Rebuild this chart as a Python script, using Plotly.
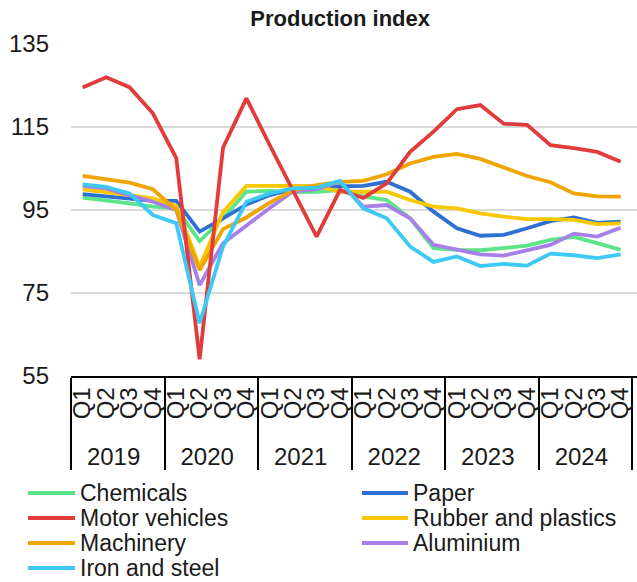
import plotly.graph_objects as go

years = ["2019", "2020", "2021", "2022", "2023", "2024"]
quarters = ["Q1", "Q2", "Q3", "Q4"]

chemicals = [98.0, 97.4, 96.6, 95.8, 95.4, 87.5, 93.0, 99.4, 99.6, 99.3, 99.4, 99.8,
             98.3, 97.4, 93.0, 85.8, 85.4, 85.3, 85.9, 86.4, 87.8, 88.5, 87.0, 85.4]
motor_vehicles = [124.5, 127.0, 124.6, 118.3, 107.5, 59.0, 110.0, 121.9, 110.6, 99.6, 88.6, 99.8,
                  97.9, 101.4, 109.0, 113.9, 119.3, 120.3, 115.8, 115.5, 110.6, 109.9, 109.0, 106.6]
machinery = [103.2, 102.5, 101.6, 100.0, 95.0, 80.5, 90.4, 93.2, 96.8, 99.8, 101.0, 101.8,
             102.0, 103.6, 106.2, 107.8, 108.5, 107.3, 105.3, 103.2, 101.7, 99.0, 98.3, 98.2]
iron_steel = [101.2, 100.6, 99.0, 93.8, 91.8, 67.7, 86.2, 97.0, 99.0, 100.2, 100.4, 102.0,
              95.4, 93.0, 86.2, 82.5, 83.8, 81.5, 82.0, 81.6, 84.5, 84.1, 83.4, 84.3]
paper = [98.8, 98.2, 97.6, 97.2, 97.2, 89.8, 93.0, 96.3, 98.6, 100.0, 100.6, 100.8,
         100.8, 101.8, 99.4, 94.6, 90.6, 88.8, 89.0, 90.6, 92.3, 93.2, 91.9, 92.2]
rubber_plastics = [100.0, 99.4, 98.6, 97.8, 96.0, 81.3, 94.5, 100.8, 100.8, 101.0, 100.8, 99.4,
                   99.4, 99.4, 97.4, 95.8, 95.4, 94.2, 93.4, 92.8, 92.8, 92.6, 91.6, 91.8]
aluminium = [100.8, 100.2, 98.6, 97.0, 95.0, 76.9, 87.0, 91.3, 95.5, 99.5, 100.0, 101.8,
             95.8, 96.2, 93.0, 86.6, 85.4, 84.3, 84.0, 85.2, 86.6, 89.3, 88.6, 90.7]

# (name, values, colour, legend column, legend row)
series = [
    ("Chemicals", chemicals, "#5ce488", 0, 0),
    ("Paper", paper, "#2d6fd2", 1, 0),
    ("Rubber and plastics", rubber_plastics, "#f7c800", 1, 1),
    ("Aluminium", aluminium, "#a680e8", 1, 2),
    ("Machinery", machinery, "#f0a400", 0, 2),
    ("Motor vehicles", motor_vehicles, "#e23b3b", 0, 1),
    ("Iron and steel", iron_steel, "#3dc9f5", 0, 3),
]

x_years = [y for y in years for _ in quarters]
x_quarters = [q for _ in years for q in quarters]

FONT = "Liberation Sans, Arial, sans-serif"
W, H = 637, 582
ML, MR, MT, MB = 71, 0, 44, 206
PW, PH = W - ML - MR, H - MT - MB


def px_x(p):
    return (p - ML) / PW


def px_y(p):
    return (H - MB - p) / PH


fig = go.Figure()
shapes = []
annotations = []
col_line_x = [(28, 75), (362, 408)]
col_text_x = [78, 411]
row_y = [493, 518, 543, 568]
for name, vals, color, col, row in series:
    fig.add_trace(go.Scatter(
        x=[x_years, x_quarters], y=vals, name=name, mode="lines",
        line=dict(color=color, width=3.8), showlegend=False,
    ))
    x0, x1 = col_line_x[col]
    shapes.append(dict(type="line", xref="paper", yref="paper",
                       x0=px_x(x0), x1=px_x(x1), y0=px_y(row_y[row]), y1=px_y(row_y[row]),
                       line=dict(color=color, width=3.8), layer="above"))
    annotations.append(dict(text=name, xref="paper", yref="paper", showarrow=False,
                            x=px_x(col_text_x[col]), y=px_y(row_y[row]),
                            xanchor="left", yanchor="middle",
                            font=dict(family=FONT, size=23, color="#1a1a1a")))

fig.update_layout(
    width=W, height=H,
    margin=dict(l=ML, r=MR, t=MT, b=MB, pad=0),
    paper_bgcolor="white", plot_bgcolor="white",
    font=dict(family=FONT, size=24, color="#1a1a1a"),
    title=dict(text="<b>Production index</b>", x=0.534, xref="container", xanchor="center",
               y=1 - 18 / 582, yref="container", yanchor="middle",
               font=dict(family=FONT, size=22, color="#1a1a1a")),
    showlegend=False,
    shapes=shapes,
    annotations=annotations,
)
fig.update_yaxes(range=[55, 135], dtick=20, tick0=55, showgrid=True, gridcolor="#d9d9d9",
                 gridwidth=1.5, zeroline=False, showline=False, ticks="",
                 ticklabelstandoff=21, automargin=False,
                 tickfont=dict(size=24, color="#1a1a1a"))
fig.update_xaxes(type="multicategory", range=[-0.5, 23.7], showgrid=False, showline=True,
                 linecolor="black", linewidth=1.5, ticks="", tickangle=-90,
                 tickmode="linear", tick0=0, dtick=1, automargin=False,
                 showdividers=True, dividercolor="black", dividerwidth=1.5,
                 tickfont=dict(size=24, color="#1a1a1a"))

fig.write_html("out.html")
